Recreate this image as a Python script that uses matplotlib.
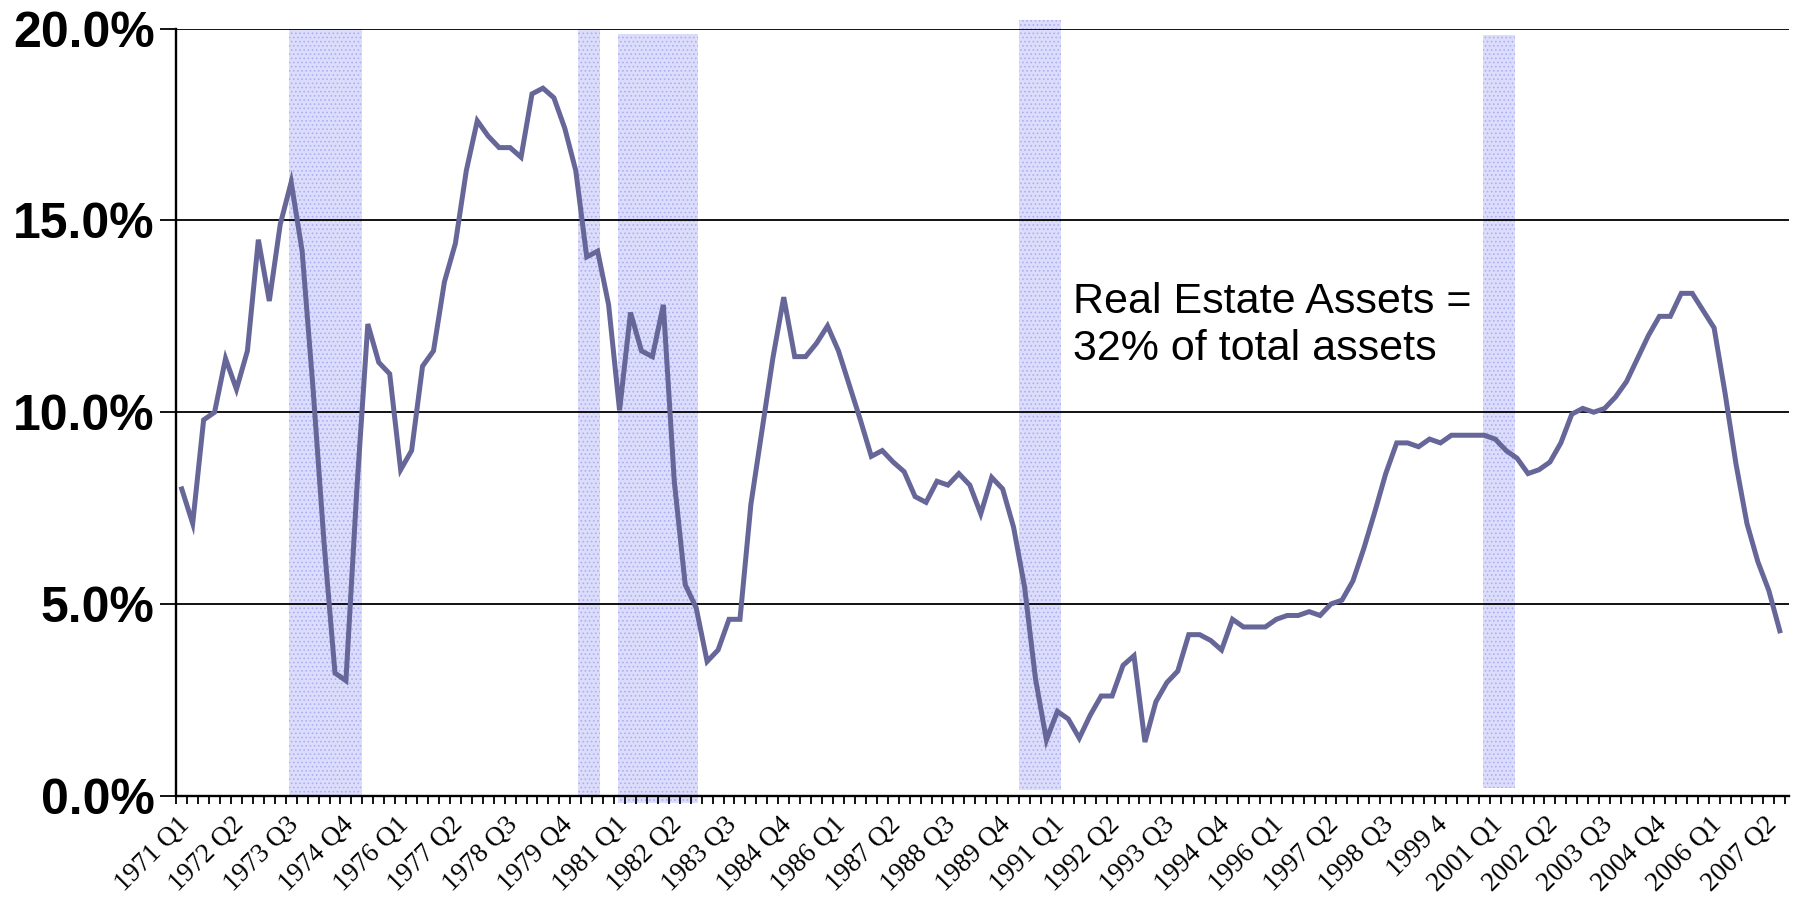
import matplotlib
matplotlib.use("Agg")
import matplotlib.pyplot as plt
import numpy as np

# quarterly share, % (1971 Q1 .. 2007 Q3)
values = [
    8.0, 7.1, 9.8, 10.0, 11.4, 10.6, 11.6, 14.5, 12.9, 14.9,
    16.0, 14.2, 10.6, 6.6, 3.2, 3.0, 8.0, 12.3, 11.3, 11.0,
    8.5, 9.0, 11.2, 11.6, 13.4, 14.4, 16.3, 17.6, 17.2, 16.9,
    16.9, 16.65, 18.3, 18.45, 18.2, 17.4, 16.3, 14.05, 14.2, 12.8,
    10.05, 12.6, 11.6, 11.45, 12.8, 8.2, 5.5, 4.9, 3.5, 3.8,
    4.6, 4.6, 7.6, 9.5, 11.4, 13.0, 11.45, 11.45, 11.8, 12.25,
    11.6, 10.7, 9.8, 8.85, 9.0, 8.7, 8.45, 7.8, 7.65, 8.2,
    8.1, 8.4, 8.1, 7.35, 8.3, 8.0, 7.0, 5.45, 3.05, 1.45,
    2.2, 2.0, 1.5, 2.1, 2.6, 2.6, 3.4, 3.65, 1.4, 2.45,
    2.95, 3.25, 4.2, 4.2, 4.05, 3.8, 4.6, 4.4, 4.4, 4.4,
    4.6, 4.7, 4.7, 4.8, 4.7, 5.0, 5.1, 5.6, 6.45, 7.4,
    8.4, 9.2, 9.2, 9.1, 9.3, 9.2, 9.4, 9.4, 9.4, 9.4,
    9.3, 9.0, 8.8, 8.4, 8.5, 8.7, 9.2, 9.95, 10.1, 10.0,
    10.1, 10.4, 10.8, 11.4, 12.0, 12.5, 12.5, 13.1, 13.1, 12.65,
    12.2, 10.5, 8.65, 7.1, 6.1, 5.35, 4.3,
]

# every fifth quarter is labelled
tick_labels = [
    "1971 Q1", "1972 Q2", "1973 Q3", "1974 Q4", "1976 Q1", "1977 Q2",
    "1978 Q3", "1979 Q4", "1981 Q1", "1982 Q2", "1983 Q3", "1984 Q4",
    "1986 Q1", "1987 Q2", "1988 Q3", "1989 Q4", "1991 Q1", "1992 Q2",
    "1993 Q3", "1994 Q4", "1996 Q1", "1997 Q2", "1998 Q3", "1999 4",
    "2001 Q1", "2002 Q2", "2003 Q3", "2004 Q4", "2006 Q1", "2007 Q2",
]

# shaded recessions (quarter index from / to, % bottom / top)
rec_start = [9.84, 36.2, 39.9, 76.5, 118.9]
rec_end = [16.49, 38.24, 47.2, 80.3, 121.8]
rec_low = [0.0, 0.0, -0.19, 0.16, 0.2]
rec_high = [20.0, 20.0, 19.85, 20.24, 19.83]

note = "Real Estate Assets =\n32% of total assets"

plt.rcParams["hatch.linewidth"] = 0.7
plt.rcParams["hatch.color"] = "#aeaef0"

fig = plt.figure(figsize=(17.95, 8.98), dpi=100)
ax = fig.add_axes([0.0982, 0.1139, 0.8985, 0.8541])

x = np.arange(len(values))

for s, e, lo, hi in zip(rec_start, rec_end, rec_low, rec_high):
    ax.add_patch(plt.Rectangle((s, lo), e - s, hi - lo, facecolor="#dcdcfc",
                               edgecolor="#aeaef0", hatch="....", linewidth=0,
                               zorder=1, clip_on=False))

for yv in [5, 10, 15, 20]:
    ax.axhline(yv, color="black", linewidth=1.3, zorder=2)

ax.plot(x, values, color="#666699", linewidth=3.6, zorder=3,
        solid_joinstyle="miter")

ax.text(81.4, 13.4, note, fontsize=31, family="Liberation Sans",
        va="top", ha="left", linespacing=1.22, zorder=4)

ax.set_xlim(-0.5, 146.85)
ax.set_ylim(0, 20)

ax.set_yticks([0, 5, 10, 15, 20])
ax.set_yticklabels(["0.0%", "5.0%", "10.0%", "15.0%", "20.0%"],
                   fontsize=36, fontweight="bold", family="Liberation Sans")
ax.tick_params(axis="y", direction="out", length=11.5, width=1.3, pad=4)

ax.set_xticks(np.arange(0, len(values), 5) - 0.45)
ax.set_xticklabels(tick_labels, rotation=45, ha="right", va="top",
                   rotation_mode="anchor", fontsize=19.5, family="Liberation Serif")
ax.set_xticks(np.arange(-0.5, len(values), 1), minor=True)
ax.tick_params(axis="x", which="major", length=0, pad=12)
ax.tick_params(axis="x", which="minor", direction="out", length=6, width=1.3)

for side in ["top", "right"]:
    ax.spines[side].set_visible(False)
ax.spines["left"].set_linewidth(1.7)
ax.spines["bottom"].set_linewidth(1.7)

fig.savefig("out.png", dpi=100)
